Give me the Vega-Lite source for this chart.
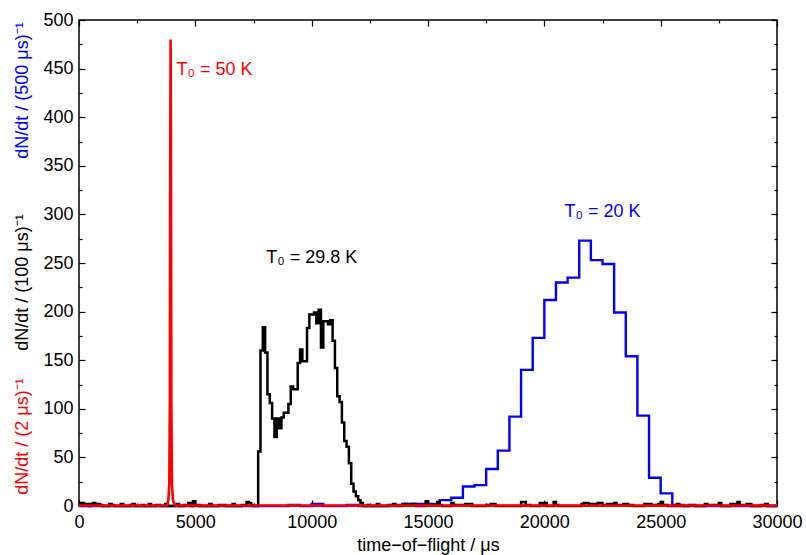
{
  "$schema": "https://vega.github.io/schema/vega-lite/v6.json",
  "width": 698,
  "height": 486,
  "autosize": {"type": "none"},
  "padding": {"left": 79, "top": 20, "right": 29, "bottom": 49},
  "config": {
    "view": {"stroke": "#000000", "strokeWidth": 1.5},
    "font": "Liberation Sans",
    "axis": {"grid": false, "domain": false, "labelFont": "Liberation Sans", "labelFontSize": 18, "labelColor": "#000000", "titleFont": "Liberation Sans", "titleFontSize": 18, "titleFontWeight": "normal", "titleColor": "#000000", "tickColor": "#000000", "tickWidth": 1.2, "labelOverlap": false, "labelFlush": false}
  },
  "datasets": {
    "hist": [
      {"s": "blue", "t": 0, "n": 0}, {"s": "blue", "t": 9000, "n": 1}, {"s": "blue", "t": 9500, "n": 0}, {"s": "blue", "t": 10000, "n": 2}, {"s": "blue", "t": 10500, "n": 0}, {"s": "blue", "t": 11500, "n": 1}, {"s": "blue", "t": 12000, "n": 0}, {"s": "blue", "t": 13500, "n": 1}, {"s": "blue", "t": 14000, "n": 2}, {"s": "blue", "t": 15500, "n": 6}, {"s": "blue", "t": 16000, "n": 8.5}, {"s": "blue", "t": 16500, "n": 20}, {"s": "blue", "t": 17000, "n": 21.5}, {"s": "blue", "t": 17500, "n": 38}, {"s": "blue", "t": 18000, "n": 57}, {"s": "blue", "t": 18500, "n": 92}, {"s": "blue", "t": 19000, "n": 140}, {"s": "blue", "t": 19500, "n": 173}, {"s": "blue", "t": 20000, "n": 212}, {"s": "blue", "t": 20500, "n": 230}, {"s": "blue", "t": 21000, "n": 235}, {"s": "blue", "t": 21500, "n": 273}, {"s": "blue", "t": 22000, "n": 253}, {"s": "blue", "t": 22500, "n": 249}, {"s": "blue", "t": 23000, "n": 199}, {"s": "blue", "t": 23500, "n": 154}, {"s": "blue", "t": 24000, "n": 93}, {"s": "blue", "t": 24500, "n": 29}, {"s": "blue", "t": 25000, "n": 13}, {"s": "blue", "t": 25500, "n": 1}, {"s": "blue", "t": 26000, "n": 0}, {"s": "blue", "t": 30000, "n": 0},

      {"s": "black", "t": 0, "n": 2}, {"s": "black", "t": 100, "n": 3}, {"s": "black", "t": 200, "n": 1}, {"s": "black", "t": 300, "n": 2}, {"s": "black", "t": 400, "n": 0}, {"s": "black", "t": 500, "n": 2}, {"s": "black", "t": 600, "n": 3}, {"s": "black", "t": 700, "n": 1}, {"s": "black", "t": 800, "n": 2}, {"s": "black", "t": 900, "n": 1}, {"s": "black", "t": 1000, "n": 0}, {"s": "black", "t": 1300, "n": 2}, {"s": "black", "t": 1400, "n": 1}, {"s": "black", "t": 1500, "n": 0}, {"s": "black", "t": 1800, "n": 2}, {"s": "black", "t": 1900, "n": 0}, {"s": "black", "t": 2200, "n": 1}, {"s": "black", "t": 2300, "n": 2}, {"s": "black", "t": 2400, "n": 0}, {"s": "black", "t": 2700, "n": 1}, {"s": "black", "t": 2800, "n": 0}, {"s": "black", "t": 3000, "n": 2}, {"s": "black", "t": 3100, "n": 0}, {"s": "black", "t": 3300, "n": 1}, {"s": "black", "t": 3500, "n": 0}, {"s": "black", "t": 3700, "n": 2}, {"s": "black", "t": 3800, "n": 0}, {"s": "black", "t": 4100, "n": 1}, {"s": "black", "t": 4200, "n": 2}, {"s": "black", "t": 4300, "n": 0}, {"s": "black", "t": 4500, "n": 1}, {"s": "black", "t": 4700, "n": 3}, {"s": "black", "t": 4800, "n": 0}, {"s": "black", "t": 4900, "n": 5}, {"s": "black", "t": 5000, "n": 1}, {"s": "black", "t": 5200, "n": 0}, {"s": "black", "t": 5600, "n": 2}, {"s": "black", "t": 5700, "n": 0}, {"s": "black", "t": 6000, "n": 1}, {"s": "black", "t": 6300, "n": 0}, {"s": "black", "t": 6600, "n": 2}, {"s": "black", "t": 6700, "n": 0}, {"s": "black", "t": 7000, "n": 1}, {"s": "black", "t": 7200, "n": 4}, {"s": "black", "t": 7300, "n": 3}, {"s": "black", "t": 7400, "n": 1}, {"s": "black", "t": 7500, "n": 0},
      {"s": "black", "t": 7700, "n": 56}, {"s": "black", "t": 7800, "n": 160}, {"s": "black", "t": 7900, "n": 184}, {"s": "black", "t": 8000, "n": 158}, {"s": "black", "t": 8100, "n": 115}, {"s": "black", "t": 8200, "n": 106}, {"s": "black", "t": 8300, "n": 90}, {"s": "black", "t": 8400, "n": 71}, {"s": "black", "t": 8500, "n": 90}, {"s": "black", "t": 8600, "n": 80}, {"s": "black", "t": 8700, "n": 91}, {"s": "black", "t": 8800, "n": 96}, {"s": "black", "t": 8900, "n": 96}, {"s": "black", "t": 9000, "n": 105}, {"s": "black", "t": 9100, "n": 123}, {"s": "black", "t": 9200, "n": 120}, {"s": "black", "t": 9300, "n": 120}, {"s": "black", "t": 9400, "n": 147}, {"s": "black", "t": 9500, "n": 161}, {"s": "black", "t": 9600, "n": 149}, {"s": "black", "t": 9700, "n": 149}, {"s": "black", "t": 9800, "n": 183}, {"s": "black", "t": 9900, "n": 197}, {"s": "black", "t": 10000, "n": 197}, {"s": "black", "t": 10100, "n": 199}, {"s": "black", "t": 10200, "n": 188}, {"s": "black", "t": 10300, "n": 202}, {"s": "black", "t": 10400, "n": 163}, {"s": "black", "t": 10500, "n": 190}, {"s": "black", "t": 10600, "n": 190}, {"s": "black", "t": 10700, "n": 187}, {"s": "black", "t": 10800, "n": 191}, {"s": "black", "t": 10900, "n": 170}, {"s": "black", "t": 11000, "n": 142}, {"s": "black", "t": 11100, "n": 113}, {"s": "black", "t": 11200, "n": 107}, {"s": "black", "t": 11300, "n": 86}, {"s": "black", "t": 11400, "n": 67}, {"s": "black", "t": 11500, "n": 61}, {"s": "black", "t": 11600, "n": 44}, {"s": "black", "t": 11700, "n": 23}, {"s": "black", "t": 11800, "n": 15}, {"s": "black", "t": 11900, "n": 10}, {"s": "black", "t": 12000, "n": 6}, {"s": "black", "t": 12100, "n": 3}, {"s": "black", "t": 12200, "n": 0},
      {"s": "black", "t": 12400, "n": 1}, {"s": "black", "t": 12500, "n": 0}, {"s": "black", "t": 12800, "n": 2}, {"s": "black", "t": 12900, "n": 0}, {"s": "black", "t": 13300, "n": 1}, {"s": "black", "t": 13500, "n": 2}, {"s": "black", "t": 13600, "n": 0}, {"s": "black", "t": 13900, "n": 2}, {"s": "black", "t": 14100, "n": 1}, {"s": "black", "t": 14300, "n": 2}, {"s": "black", "t": 14500, "n": 0}, {"s": "black", "t": 14900, "n": 5}, {"s": "black", "t": 15000, "n": 1}, {"s": "black", "t": 15400, "n": 4}, {"s": "black", "t": 15500, "n": 1}, {"s": "black", "t": 15600, "n": 0}, {"s": "black", "t": 16000, "n": 3}, {"s": "black", "t": 16100, "n": 1}, {"s": "black", "t": 16600, "n": 2}, {"s": "black", "t": 16900, "n": 0}, {"s": "black", "t": 17500, "n": 1}, {"s": "black", "t": 17700, "n": 2}, {"s": "black", "t": 17900, "n": 0}, {"s": "black", "t": 19000, "n": 4}, {"s": "black", "t": 19200, "n": 1}, {"s": "black", "t": 19400, "n": 0}, {"s": "black", "t": 19800, "n": 3}, {"s": "black", "t": 19900, "n": 1}, {"s": "black", "t": 20000, "n": 3}, {"s": "black", "t": 20100, "n": 0}, {"s": "black", "t": 20400, "n": 4}, {"s": "black", "t": 20500, "n": 1}, {"s": "black", "t": 20600, "n": 0}, {"s": "black", "t": 21600, "n": 2}, {"s": "black", "t": 21700, "n": 3}, {"s": "black", "t": 21900, "n": 2}, {"s": "black", "t": 22300, "n": 3}, {"s": "black", "t": 22500, "n": 1}, {"s": "black", "t": 22700, "n": 2}, {"s": "black", "t": 23000, "n": 3}, {"s": "black", "t": 23100, "n": 1}, {"s": "black", "t": 23400, "n": 2}, {"s": "black", "t": 23600, "n": 1}, {"s": "black", "t": 23800, "n": 0}, {"s": "black", "t": 24300, "n": 2}, {"s": "black", "t": 24600, "n": 1}, {"s": "black", "t": 24900, "n": 2}, {"s": "black", "t": 25000, "n": 4}, {"s": "black", "t": 25100, "n": 1}, {"s": "black", "t": 25300, "n": 0}, {"s": "black", "t": 25700, "n": 2}, {"s": "black", "t": 25800, "n": 0}, {"s": "black", "t": 26200, "n": 1}, {"s": "black", "t": 26500, "n": 0}, {"s": "black", "t": 26900, "n": 2}, {"s": "black", "t": 27000, "n": 1}, {"s": "black", "t": 27500, "n": 3}, {"s": "black", "t": 27600, "n": 0}, {"s": "black", "t": 28000, "n": 2}, {"s": "black", "t": 28300, "n": 4}, {"s": "black", "t": 28400, "n": 1}, {"s": "black", "t": 28700, "n": 2}, {"s": "black", "t": 28900, "n": 0}, {"s": "black", "t": 29300, "n": 1}, {"s": "black", "t": 29500, "n": 2}, {"s": "black", "t": 29600, "n": 0}, {"s": "black", "t": 30000, "n": 0},

      {"s": "red", "t": 0, "n": 0.5}, {"s": "red", "t": 3780, "n": 0.5}, {"s": "red", "t": 3840, "n": 6}, {"s": "red", "t": 3880, "n": 22}, {"s": "red", "t": 3905, "n": 110}, {"s": "red", "t": 3922, "n": 370}, {"s": "red", "t": 3937, "n": 480}, {"s": "red", "t": 3952, "n": 370}, {"s": "red", "t": 3969, "n": 110}, {"s": "red", "t": 3995, "n": 22}, {"s": "red", "t": 4040, "n": 6}, {"s": "red", "t": 4110, "n": 0.5}, {"s": "red", "t": 30000, "n": 0.5}
    ],
    "labels": [
      {"s": "2", "t": 4195, "n": 449, "txt": "T₀ = 50 K"},
      {"s": "500", "t": 20870, "n": 302, "txt": "T₀ = 20 K"},
      {"s": "100", "t": 8050, "n": 255, "txt": "T₀ = 29.8 K"}
    ]
  },
  "resolve": {"axis": {"x": "independent", "y": "independent"}},
  "layer": [
    {
      "data": {"name": "hist"},
      "transform": [{"filter": {"field": "s", "equal": "blue"}}],
      "mark": {"type": "line", "interpolate": "step-after", "color": "#0000ff", "strokeWidth": 2.4},
      "encoding": {
        "x": {"field": "t", "type": "quantitative", "scale": {"domain": [0, 30000], "nice": false, "zero": false},
          "axis": {"orient": "bottom", "values": [0, 5000, 10000, 15000, 20000, 25000, 30000], "format": "d", "tickSize": -6, "labelPadding": 13, "title": "time−of−flight / μs", "titleY": 44, "titleBaseline": "alphabetic"}},
        "y": {"field": "n", "type": "quantitative", "scale": {"domain": [0, 500], "nice": false},
          "axis": {"orient": "left", "values": [0, 50, 100, 150, 200, 250, 300, 350, 400, 450, 500], "tickSize": -6, "labelPadding": 12, "title": "dN/dt / (500 μs)⁻¹", "titleColor": "#0000ff", "titleAngle": -90, "titleX": -57, "titleY": 70, "titleAlign": "center", "titleBaseline": "middle"}}
      }
    },
    {
      "data": {"name": "hist"},
      "transform": [{"filter": {"field": "s", "equal": "black"}}],
      "mark": {"type": "line", "interpolate": "step-after", "color": "#000000", "strokeWidth": 2.5},
      "encoding": {
        "x": {"field": "t", "type": "quantitative", "scale": {"domain": [0, 30000], "nice": false, "zero": false},
          "axis": {"orient": "bottom", "values": [2500, 7500, 12500, 17500, 22500, 27500], "tickSize": -3, "labels": false, "title": null}},
        "y": {"field": "n", "type": "quantitative", "scale": {"domain": [0, 500], "nice": false},
          "axis": {"orient": "left", "values": [25, 75, 125, 175, 225, 275, 325, 375, 425, 475], "tickSize": -3, "labels": false, "title": "dN/dt / (100 μs)⁻¹", "titleColor": "#000000", "titleAngle": -90, "titleX": -57, "titleY": 262, "titleAlign": "center", "titleBaseline": "middle"}}
      }
    },
    {
      "data": {"name": "hist"},
      "transform": [{"filter": {"field": "s", "equal": "red"}}],
      "mark": {"type": "line", "interpolate": "linear", "color": "#ff0000", "strokeWidth": 2.6},
      "encoding": {
        "x": {"field": "t", "type": "quantitative", "scale": {"domain": [0, 30000], "nice": false, "zero": false}, "axis": null},
        "y": {"field": "n", "type": "quantitative", "scale": {"domain": [0, 500], "nice": false},
          "axis": {"orient": "left", "ticks": false, "labels": false, "title": "dN/dt / (2 μs)⁻¹", "titleColor": "#ff0000", "titleAngle": -90, "titleX": -57, "titleY": 416, "titleAlign": "center", "titleBaseline": "middle"}}
      }
    },
    {
      "data": {"name": "labels"},
      "transform": [{"filter": {"field": "s", "oneOf": ["2", "500"]}}],
      "mark": {"type": "text", "align": "left", "baseline": "middle", "fontSize": 18, "font": "Liberation Sans"},
      "encoding": {
        "x": {"field": "t", "type": "quantitative", "scale": {"domain": [0, 30000], "nice": false, "zero": false},
          "axis": {"orient": "top", "values": [0, 5000, 10000, 15000, 20000, 25000, 30000], "tickSize": -6, "labels": false, "title": null}},
        "y": {"field": "n", "type": "quantitative", "scale": {"domain": [0, 500], "nice": false},
          "axis": {"orient": "right", "values": [0, 50, 100, 150, 200, 250, 300, 350, 400, 450, 500], "tickSize": -6, "labels": false, "title": null}},
        "text": {"field": "txt"},
        "color": {"field": "s", "type": "nominal", "scale": {"domain": ["2", "100", "500"], "range": ["#ff0000", "#000000", "#0000ff"]}, "legend": null}
      }
    },
    {
      "data": {"name": "labels"},
      "transform": [{"filter": {"field": "s", "equal": "100"}}],
      "mark": {"type": "text", "align": "left", "baseline": "middle", "fontSize": 18, "font": "Liberation Sans"},
      "encoding": {
        "x": {"field": "t", "type": "quantitative", "scale": {"domain": [0, 30000], "nice": false, "zero": false},
          "axis": {"orient": "top", "values": [2500, 7500, 12500, 17500, 22500, 27500], "tickSize": -3, "labels": false, "title": null}},
        "y": {"field": "n", "type": "quantitative", "scale": {"domain": [0, 500], "nice": false},
          "axis": {"orient": "right", "values": [25, 75, 125, 175, 225, 275, 325, 375, 425, 475], "tickSize": -3, "labels": false, "title": null}},
        "text": {"field": "txt"},
        "color": {"field": "s", "type": "nominal", "scale": {"domain": ["2", "100", "500"], "range": ["#ff0000", "#000000", "#0000ff"]}, "legend": null}
      }
    }
  ]
}
